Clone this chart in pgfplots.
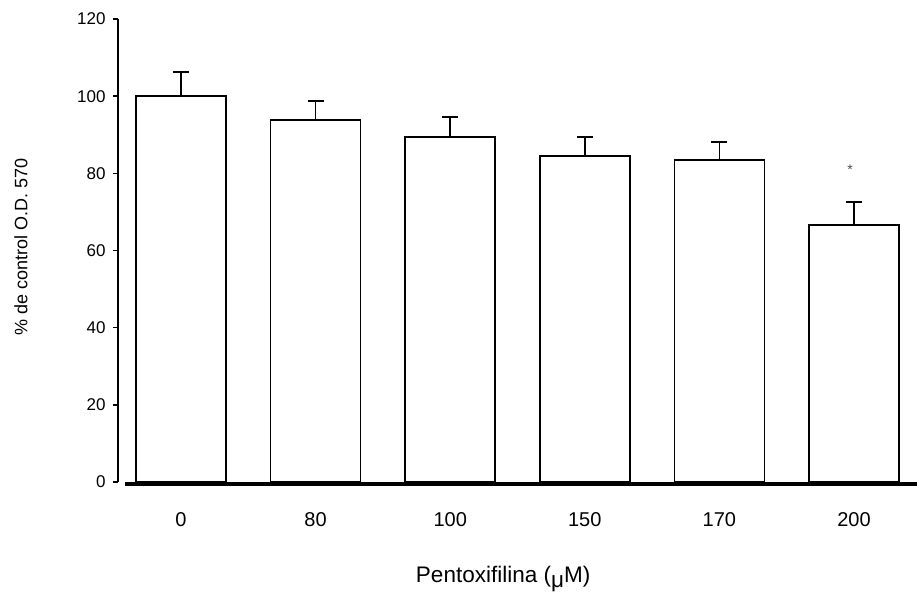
\documentclass[border=0pt]{standalone}
\usepackage{pgfplots}
\pgfplotsset{compat=1.18}
\usepackage{fontspec}
\setmainfont{Liberation Sans}
\newcommand\xt[1]{\fontsize{20}{22}\selectfont #1}
\begin{document}
\begin{tikzpicture}
\useasboundingbox (0,0) rectangle (917pt,599pt);
\begin{axis}[
  at={(118pt,117pt)}, anchor=south west,
  scale only axis, width=799pt, height=463pt,
  xmin=-0.468, xmax=5.468, ymin=0, ymax=120,
  clip=false,
  axis y line*=left, axis x line*=bottom,
  x axis line style={draw=none},
  y axis line style={line width=1.6pt},
  ytick={0,20,40,60,80,100,120},
  yticklabels={0,20,40,60,80,100,120},
  ytick style={line width=1.6pt, black},
  major tick length=5pt,
  tick align=outside,
  xtick={0,1,2,3,4,5},
  xticklabels={\xt{0},\xt{80},\xt{100},\xt{150},\xt{170},\xt{200}},
  xtick style={draw=none},
  tick label style={font=\fontsize{17}{19}\selectfont},
  yticklabel style={xshift=-4pt},
  xticklabel style={yshift=-22pt},
  xlabel={Pentoxifilina (\raisebox{-5pt}{μ}M)},
  xlabel style={font=\fontsize{22.5}{24}\selectfont, at={(axis description cs:0.482,0)}, anchor=base, yshift=-100pt},
  ylabel={\% de control O.D. 570},
  ylabel style={font=\fontsize{18}{20}\selectfont, at={(axis description cs:0,0.508)}, anchor=center, yshift=97pt},
  ybar, bar width=0.669,
]
\addplot[fill=white, draw=black, line width=1.6pt,
  error bars/.cd, y dir=plus, y explicit,
  error bar style={line width=1.6pt, black},
  error mark options={rotate=90, mark size=8pt, line width=1.6pt, black}]
  coordinates {
  (0,100)  +- (0,6.3)
  (1,93.8) +- (0,5.0)
  (2,89.4) +- (0,5.2)
  (3,84.5) +- (0,4.9)
  (4,83.5) +- (0,4.6)
  (5,66.6) +- (0,6.0)
  };
\draw[line width=4pt, black] (axis cs:-0.416,-0.5) -- (axis cs:5.468,-0.5);
\node[font=\fontsize{14}{14}\selectfont, text=black!70] at (axis cs:4.97,81) {*};
\end{axis}
\end{tikzpicture}
\end{document}
